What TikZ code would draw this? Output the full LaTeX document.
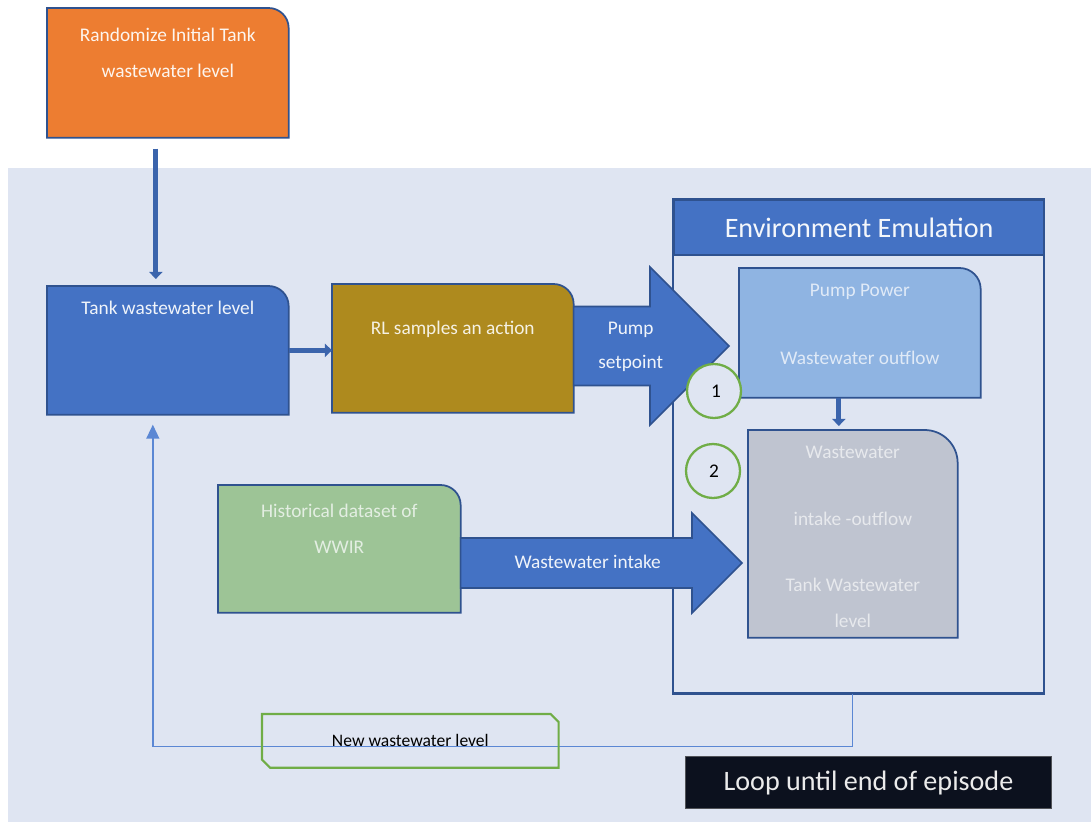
\documentclass[tikz,border=0pt]{standalone}
\usepackage{fontspec}
\setmainfont{Carlito}
\usetikzlibrary{positioning, calc, arrows.meta, backgrounds}

\definecolor{bgblue}{RGB}{223,229,242}
\definecolor{accent}{RGB}{68,114,196}
\definecolor{edge}{RGB}{47,82,143}
\definecolor{initorange}{RGB}{237,125,49}
\definecolor{rlgold}{RGB}{174,138,30}
\definecolor{pumpblue}{RGB}{143,180,226}
\definecolor{mixgrey}{RGB}{191,196,208}
\definecolor{histgreen}{RGB}{157,196,150}
\definecolor{ringgreen}{RGB}{112,173,71}
\definecolor{loopnavy}{RGB}{12,17,30}
\definecolor{feedblue}{RGB}{91,135,212}

% card with one rounded corner (top right): node, fill, radius in cm
\newcommand{\cardshape}[3]{%
  \filldraw[fill=#2, draw=edge, line width=1pt]
    (#1.south west) -- (#1.north west) -- ([xshift=-#3cm]#1.north east)
    .. controls ([xshift=-0.45*#3cm]#1.north east) and ([yshift=-0.45*#3cm]#1.north east) ..
    ([yshift=-#3cm]#1.north east) -- (#1.south east) -- cycle;}

% block arrow: start, tip, shaft half width, head half width (px)
\newcommand{\blockarrow}[4]{%
  \filldraw[fill=accent, draw=edge, line width=0.9pt]
    ($(#1)+(0,-#3)$) -- ($(#2)+(-#4,-#3)$) -- ($(#2)+(-#4,-#4)$) -- (#2)
    -- ($(#2)+(-#4,#4)$) -- ($(#2)+(-#4,#3)$) -- ($(#1)+(0,#3)$) -- cycle;}

\tikzset{
  cardbox/.style={rectangle, draw=none, anchor=north west, inner sep=0pt},
  cardtext/.style={font=\fontsize{11}{20.4}\selectfont, align=center, inner sep=0pt},
  arrowtext/.style={font=\fontsize{11}{19.3}\selectfont, align=center, inner sep=0pt, text=white!92!accent},
  flow/.style={draw=edge!45!accent, line width=2.8pt, -{Triangle[width=7.4pt,length=4pt]}},
  feedback/.style={draw=feedblue, line width=0.9pt, -{Triangle[width=7.4pt,length=8pt]}},
  ring/.style={circle, draw=ringgreen, line width=1.3pt, fill=bgblue, minimum size=1.08cm,
    inner sep=0pt, font=\fontsize{11}{13}\selectfont},
}

\begin{document}
\begin{tikzpicture}[x=0.02cm, y=-0.02cm]
  \useasboundingbox (0,0) rectangle (1091,822);

  % boxes
  \node[cardbox, minimum width=4.82cm, minimum height=2.58cm] (init) at (47,8) {};
  \node[cardbox, minimum width=4.82cm, minimum height=2.56cm] (tank) at (47,286) {};
  \node[cardbox, minimum width=4.82cm, minimum height=2.56cm] (rl) at (332,284) {};
  \node[cardbox, minimum width=4.84cm, minimum height=2.54cm] (hist) at (218,485) {};
  \node[cardbox, minimum width=7.4cm, minimum height=9.88cm] (env) at (673,199) {};
  \node[cardbox, minimum width=4.82cm, minimum height=2.58cm] (pump) at (739,268) {};
  \node[cardbox, minimum width=4.18cm, minimum height=4.14cm] (mix) at (748,430) {};

  \begin{scope}[on background layer]
    \fill[white] (0,0) rectangle (1091,822);
    \fill[bgblue] (8,168) rectangle (1091,822);
    \draw[edge, line width=1.3pt] (env.north west) rectangle (env.south east);
    \cardshape{init}{initorange}{0.4}
    \cardshape{tank}{accent}{0.4}
    \cardshape{rl}{rlgold}{0.4}
    \cardshape{hist}{histgreen}{0.4}
    \cardshape{pump}{pumpblue}{0.42}
    \cardshape{mix}{mixgrey}{0.66}
  \end{scope}

  % box texts
  \node[cardtext, text=white!92!initorange, below=0.39cm of init.north] (inittext)
    {Randomize Initial Tank\\wastewater level};
  \node[cardtext, text=white!92!accent, below=0.29cm of tank.north] (tanktext)
    {Tank wastewater level};
  \node[cardtext, text=white!88!rlgold, below=0.73cm of rl.north] (rltext)
    {RL samples an action};
  \node[cardtext, text=white!72!histgreen, below=0.37cm of hist.north] (histtext)
    {Historical dataset of\\WWIR};
  \node[cardtext, text=white!72!pumpblue, below=0.31cm of pump.north] (pumptext)
    {Pump Power\\[0.64cm]Wastewater outflow};
  \node[cardtext, text=white!62!mixgrey, below=0.31cm of mix.north] (mixtext)
    {Wastewater\\[0.62cm]intake -outflow\\[0.62cm]Tank Wastewater\\level};

  % environment header
  \node[cardbox, minimum width=7.4cm, minimum height=1.1cm, fill=accent, draw=edge,
    line width=1.3pt, text=white!94!accent, font=\fontsize{16}{19}\selectfont] (envhead)
    at (673,199) {Environment Emulation};

  % connectors
  \draw[flow] ($(init.south)+(-12,11)$) -- ($(tank.north)+(-12,-7)$);
  \draw[flow] (tank.east) -- (tank.east -| rl.west);
  \coordinate (pumpout) at ($(pump.south)+(-21,0)$);
  \draw[flow] (pumpout) -- ($(pumpout |- mix.north)+(0,-4)$);

  % block arrows
  \coordinate (setpointtip) at (729,346);
  \coordinate (setpointstart) at (rl.east |- setpointtip);
  \blockarrow{setpointstart}{setpointtip}{39.5}{79}
  \node[arrowtext] (setpoint) at ($(setpointstart)+(57,1)$) {Pump\\setpoint};

  \coordinate (intaketip) at (742,563);
  \coordinate (intakestart) at (hist.east |- intaketip);
  \blockarrow{intakestart}{intaketip}{25}{50}
  \node[arrowtext] (intake) at ($(intakestart)+(127,-1)$) {Wastewater intake};

  % step markers
  \node[ring] (stepone) at (714,391) {\hspace{0.08cm}1};
  \node[ring] (steptwo) at (713,471) {\hspace{0.04cm}2};

  % loop back to the tank level
  \coordinate (loopturn) at ($(env.south)+(-6,53)$);
  \draw[feedback] ($(env.south)+(-6,0)$) -- (loopturn) -| ($(tank.south)+(-15,10)$);

  \node[cardbox, minimum width=5.92cm, minimum height=1.06cm,
    font=\fontsize{10}{12}\selectfont] (newlevel) at (262,714) {New wastewater level};
  \draw[ringgreen, line width=1.2pt] (newlevel.north west) -- ($(newlevel.north east)+(-8,0)$)
    -- ($(newlevel.north east)+(0,8)$) -- (newlevel.south east)
    -- ($(newlevel.south west)+(8,0)$) -- ($(newlevel.south west)+(0,-8)$) -- cycle;

  \node[cardbox, minimum width=7.32cm, minimum height=1.04cm, fill=loopnavy,
    draw=gray!60!loopnavy, line width=0.6pt, text=white!92!black,
    font=\fontsize{16}{19}\selectfont] (loop) at (685,756) {Loop until end of episode};
\end{tikzpicture}
\end{document}
